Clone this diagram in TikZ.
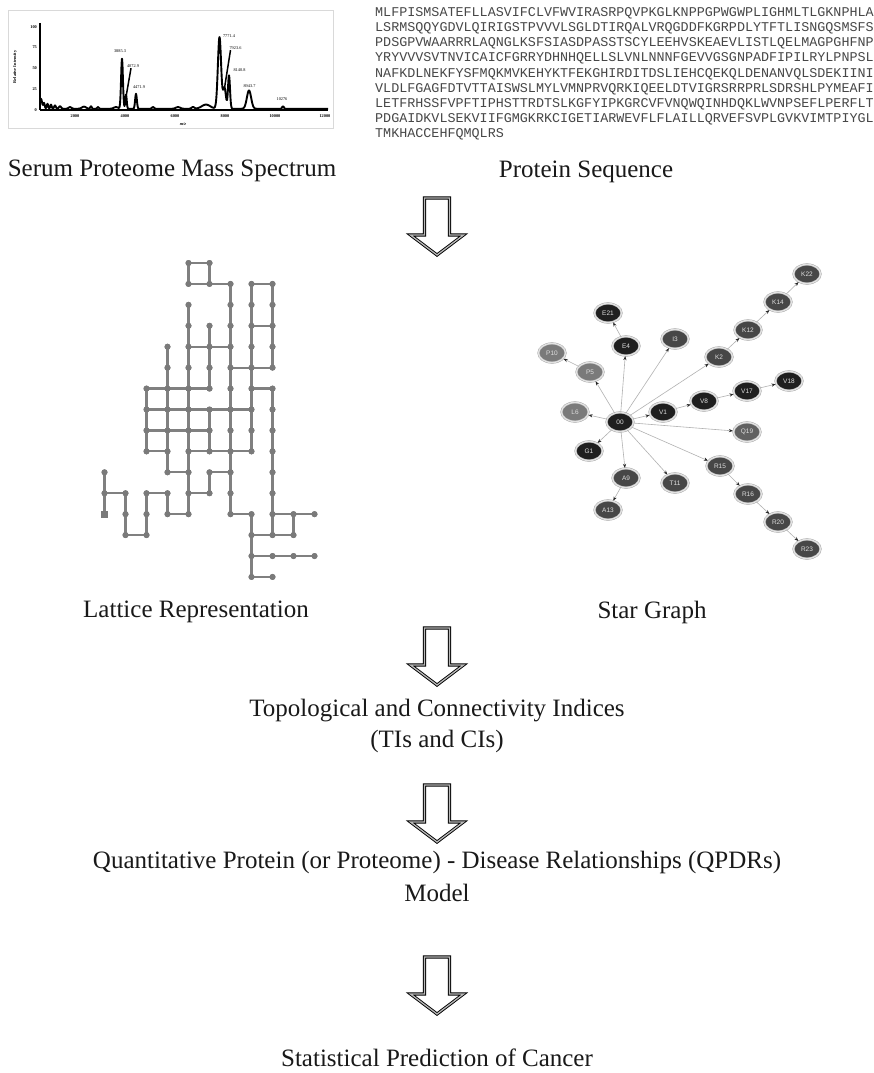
\documentclass[tikz,border=0pt]{standalone}
\usepackage{fontspec}
\setmainfont{Liberation Serif}
\newfontfamily\seqfont{Liberation Mono}
\newfontfamily\labfont{Liberation Sans}
\usetikzlibrary{shapes.geometric,arrows.meta}

\tikzset{
  caption/.style={font=\fontsize{25}{30}\selectfont, text=black!90, inner sep=0pt},
  hollow/.style={fill=white, draw=black, double=gray!55, double distance=1.3pt,
    line width=0.9pt, line join=miter},
  bigdown/.pic={\path[hollow] (-12.5,0) -- (12.5,0) -- (12.5,37) -- (26.5,37)
    -- (0,57) -- (-26.5,37) -- (-12.5,37) -- cycle;},
  % lattice
  ldot/.style={circle, fill=black!52, inner sep=0pt, minimum size=6pt},
  lsq/.style={rectangle, fill=black!52, inner sep=0pt, minimum size=7pt},
  lbond/.style={draw=black!50, line width=2.2pt},
  % star graph
  snode/.style={ellipse, draw=gray!75, double=gray!22, double distance=1.4pt,
    line width=0.4pt, minimum width=27pt, minimum height=19pt, inner sep=0pt,
    font=\labfont\fontsize{6.5}{7}\selectfont, text=gray!25},
  sblack/.style={snode, fill=black!88},
  sdark/.style={snode, fill=black!72},
  smid/.style={snode, fill=black!62},
  slight/.style={snode, fill=black!52},
  sedge/.style={draw=gray!60, line width=0.6pt,
    -{Stealth[length=4pt,width=3.2pt,color=black!85]}, shorten >=0.5pt},
  % spectrum
  tick/.style={font=\bfseries\fontsize{4.3}{5}\selectfont, inner sep=0pt},
  plab/.style={font=\fontsize{4.3}{5}\selectfont, inner sep=0pt},
}

\begin{document}
\begin{tikzpicture}[x=1pt, y=-1pt,
  declare function={pk(\t,\c,\w)=exp(0-pow(min(abs(\t-\c)/\w,3.5),2));}]
\path[use as bounding box, fill=white] (0,0) rectangle (874,1073);

% ---------------- mass spectrum ----------------
\draw[gray!30, line width=0.6pt] (8,10) rectangle (333,128);
\draw[black, line width=2pt] (40,23) -- (40,110);
\draw[black, line width=1.2pt] (40,110) -- (328,110);
\foreach \v/\yy in {100/26.7,75/47.5,50/68.3,25/89.2,0/110}
  \node[tick, anchor=east] at (37,\yy) {\v};
\foreach \v in {2000,4000,6000,8000,10000,12000}
  \node[tick] at ({25+0.025*\v},116.5) {\v};
\node[tick] at (183,124.5) {\itshape m/z};
\node[tick, rotate=90] at (15,67) {Relative Intensity};
\draw[black, line width=1.9pt, line join=round]
  plot[domain=40:328, samples=577, smooth] (\x, {110 - 0.833*(1.5
   + 12*pk(\x,41,1.5) + 7*pk(\x,44,1) + 6*pk(\x,47.5,1) + 5*pk(\x,51,1)
   + 4*pk(\x,55,1.2) + 3*pk(\x,60,1.5) + 2*pk(\x,70,2) + 2.5*pk(\x,84,3)
   + 3*pk(\x,91,1) + 2*pk(\x,98,1.2) + 2*pk(\x,116,3) + 60*pk(\x,122,1.3)
   + 17*pk(\x,126,1) + 18*pk(\x,136,1.2) + 2*pk(\x,153,1.5) + 2*pk(\x,178,3)
   + 2*pk(\x,193,2) + 5*pk(\x,206,6) + 86*pk(\x,219.5,2.3) + 25*pk(\x,224.5,2)
   + 40*pk(\x,229,1.4) + 22*pk(\x,249,3) + 3*pk(\x,283,1.2))});
\node[plab] (l1) at (120,51.5) {3885.3};
\node[plab] (l2) at (133,66.5) {4072.9};
\node[plab] (l3) at (139,87.5) {4471.9};
\node[plab] (l4) at (229,36) {7771.4};
\node[plab] (l5) at (235.5,48.5) {7923.6};
\node[plab] (l6) at (239.5,70) {8140.8};
\node[plab] (l7) at (249.5,86.5) {8943.7};
\node[plab] (l8) at (282,99.5) {10276};
\coordinate (p2) at (126,97);
\coordinate (p5) at (224.5,88);
\draw[black, line width=1.5pt] (l2.south) ++(-2,0) -- (p2);
\draw[black, line width=1.5pt] (l5.south) ++(-5,0) -- (p5);

% ---------------- protein sequence ----------------
\begin{scope}
\clip (340,0) rectangle (874,150);
\foreach \s [count=\i from 0] in {
 MLFPISMSATEFLLASVIFCLVFWVIRASRPQVPKGLKNPPGPWGWPLIGHMLTLGKNPHLA,
 LSRMSQQYGDVLQIRIGSTPVVVLSGLDTIRQALVRQGDDFKGRPDLYTFTLISNGQSMSFS,
 PDSGPVWAARRRLAQNGLKSFSIASDPASSTSCYLEEHVSKEAEVLISTLQELMAGPGHFNP,
 YRYVVVSVTNVICAICFGRRYDHNHQELLSLVNLNNNFGEVVGSGNPADFIPILRYLPNPSL,
 NAFKDLNEKFYSFMQKMVKEHYKTFEKGHIRDITDSLIEHCQEKQLDENANVQLSDEKIINI,
 VLDLFGAGFDTVTTAISWSLMYLVMNPRVQRKIQEELDTVIGRSRRPRLSDRSHLPYMEAFI,
 LETFRHSSFVPFTIPHSTTRDTSLKGFYIPKGRCVFVNQWQINHDQKLWVNPSEFLPERFLT,
 PDGAIDKVLSEKVIIFGMGKRKCIGETIARWEVFLFLAILLQRVEFSVPLGVKVIMTPIYGL,
 TMKHACCEHFQMQLRS}
  \node[anchor=west, inner sep=0pt, text=black!72,
        font=\seqfont\fontsize{13.4}{14}\selectfont] (seq\i) at (375,{13+15.2*\i}) {\s};
\end{scope}

\node[caption] (capms) at (172,171) {Serum Proteome Mass Spectrum};
\node[caption] (capseq) at (586,172) {Protein Sequence};

\pic at (437,198) {bigdown};

% ---------------- lattice ----------------
\foreach \c/\r in {4/0,5/0, 4/1,5/1,6/1,7/1,8/1, 4/2,6/2,7/2,8/2,
  4/3,5/3,6/3,7/3,8/3, 3/4,4/4,5/4,6/4,7/4,8/4, 3/5,4/5,5/5,6/5,7/5,8/5,
  2/6,3/6,4/6,5/6,6/6,7/6,8/6, 2/7,3/7,4/7,5/7,6/7,7/7,8/7,
  2/8,3/8,4/8,5/8,6/8,7/8,8/8, 2/9,3/9,4/9,5/9,6/9,7/9,8/9,
  0/10,3/10,4/10,5/10,6/10,8/10, 0/11,1/11,2/11,3/11,4/11,5/11,6/11,8/11,
  1/12,2/12,3/12,4/12,6/12,7/12,8/12,9/12,10/12,
  1/13,2/13,7/13,8/13,9/13, 7/14,8/14,9/14,10/14, 7/15,8/15}
  \node[ldot] (L\c-\r) at ({104.5+21*\c},{263+20.93*\r}) {};
\node[lsq] (L0-12) at (104.5,{263+20.93*12}) {};
\foreach \c/\r [evaluate=\c as \cn using int(\c+1)] in {4/0, 4/1,5/1,7/1, 7/3, 4/4,5/4, 6/5,7/5,
  2/6,3/6,4/6,7/6, 2/7,3/7,4/7,5/7,6/7, 2/8,3/8,4/8, 2/9,4/9,5/9,6/9,
  3/10,5/10, 0/11,2/11,4/11, 3/12,6/12,8/12,9/12, 1/13,7/13,8/13,
  7/14,8/14,9/14, 7/15}
  \draw[lbond] (L\c-\r.center) -- (L\cn-\r.center);
\foreach \c/\r [evaluate=\r as \rn using int(\r+1)] in {0/10,0/11, 1/11,1/12,
  2/6,2/7,2/8,2/11,2/12, 3/4,3/5,3/6,3/7,3/8,3/9,3/11,
  4/0,4/2,4/3,4/4,4/5,4/6,4/7,4/8,4/9,4/10,4/11,
  5/0,5/3,5/4,5/5,5/7,5/8,5/10,
  6/1,6/2,6/3,6/4,6/5,6/6,6/7,6/8,6/9,6/10,6/11,
  7/1,7/2,7/3,7/4,7/5,7/6,7/7,7/8,7/12,7/13,7/14,
  8/1,8/2,8/3,8/4,8/6,8/7,8/8,8/9,8/10,8/11,8/12, 9/12}
  \draw[lbond] (L\c-\r.center) -- (L\c-\rn.center);
% dots drawn again on top of the bonds
\foreach \c/\r in {4/0,5/0, 4/1,5/1,6/1,7/1,8/1, 4/2,6/2,7/2,8/2,
  4/3,5/3,6/3,7/3,8/3, 3/4,4/4,5/4,6/4,7/4,8/4, 3/5,4/5,5/5,6/5,7/5,8/5,
  2/6,3/6,4/6,5/6,6/6,7/6,8/6, 2/7,3/7,4/7,5/7,6/7,7/7,8/7,
  2/8,3/8,4/8,5/8,6/8,7/8,8/8, 2/9,3/9,4/9,5/9,6/9,7/9,8/9,
  0/10,3/10,4/10,5/10,6/10,8/10, 0/11,1/11,2/11,3/11,4/11,5/11,6/11,8/11,
  1/12,2/12,3/12,4/12,6/12,7/12,8/12,9/12,10/12,
  1/13,2/13,7/13,8/13,9/13, 7/14,8/14,9/14,10/14, 7/15,8/15}
  \fill[black!52] (L\c-\r.center) circle (3pt);
\fill[black!52] (L0-12.center) ++(-3.5,-3.5) rectangle ++(7,7);

% ---------------- star graph ----------------
\node[sblack] (S00) at (620,422) {00};
\node[sblack] (SV1) at (663,412) {V1};
\node[sblack] (SV8) at (704,401) {V8};
\node[sblack] (SV17) at (747,391) {V17};
\node[sblack] (SV18) at (789,381) {V18};
\node[sblack] (SE4) at (626,346) {E4};
\node[sblack] (SE21) at (608,313) {E21};
\node[sblack] (SG1) at (589,451) {G1};
\node[sdark] (SI3) at (675,339) {I3};
\node[sdark] (SK2) at (719,357) {K2};
\node[sdark] (SK12) at (748,330) {K12};
\node[sdark] (SK14) at (778,302) {K14};
\node[sdark] (SK22) at (807,274) {K22};
\node[sdark] (SR15) at (720,466) {R15};
\node[sdark] (SR16) at (748,494) {R16};
\node[sdark] (SR20) at (778,522) {R20};
\node[sdark] (SR23) at (807,549) {R23};
\node[sdark] (SA9) at (626,478) {A9};
\node[sdark] (SA13) at (608,510) {A13};
\node[sdark] (ST11) at (675,483) {T11};
\node[smid] (SQ19) at (747,432) {Q19};
\node[slight] (SP5) at (590,372) {P5};
\node[slight] (SP10) at (552,353) {P10};
\node[slight] (SL6) at (575,412) {L6};

\foreach \a/\b in {S00/SP5, SP5/SP10, S00/SE4, SE4/SE21, S00/SI3, S00/SK2,
  SK2/SK12, SK12/SK14, SK14/SK22, S00/SV1, SV1/SV8, SV8/SV17, SV17/SV18,
  S00/SL6, S00/SQ19, S00/SG1, S00/SA9, SA9/SA13, S00/ST11, S00/SR15,
  SR15/SR16, SR16/SR20, SR20/SR23}
  \draw[sedge] (\a) -- (\b);

\node[caption] (caplat) at (196,612) {Lattice Representation};
\node[caption] (capstar) at (652,612) {Star Graph};

\pic at (437,628) {bigdown};

\node[caption] (ti1) at (437,711) {Topological and Connectivity Indices};
\node[caption] (ti2) at (437,741) {(TIs and CIs)};

\pic at (437,785) {bigdown};

\node[caption] (q1) at (437,862) {Quantitative Protein (or Proteome) - Disease Relationships (QPDRs)};
\node[caption] (q2) at (437,893) {Model};

\pic at (437,957) {bigdown};

\node[caption] (cancer) at (437,1058) {Statistical Prediction of Cancer};
\end{tikzpicture}
\end{document}
